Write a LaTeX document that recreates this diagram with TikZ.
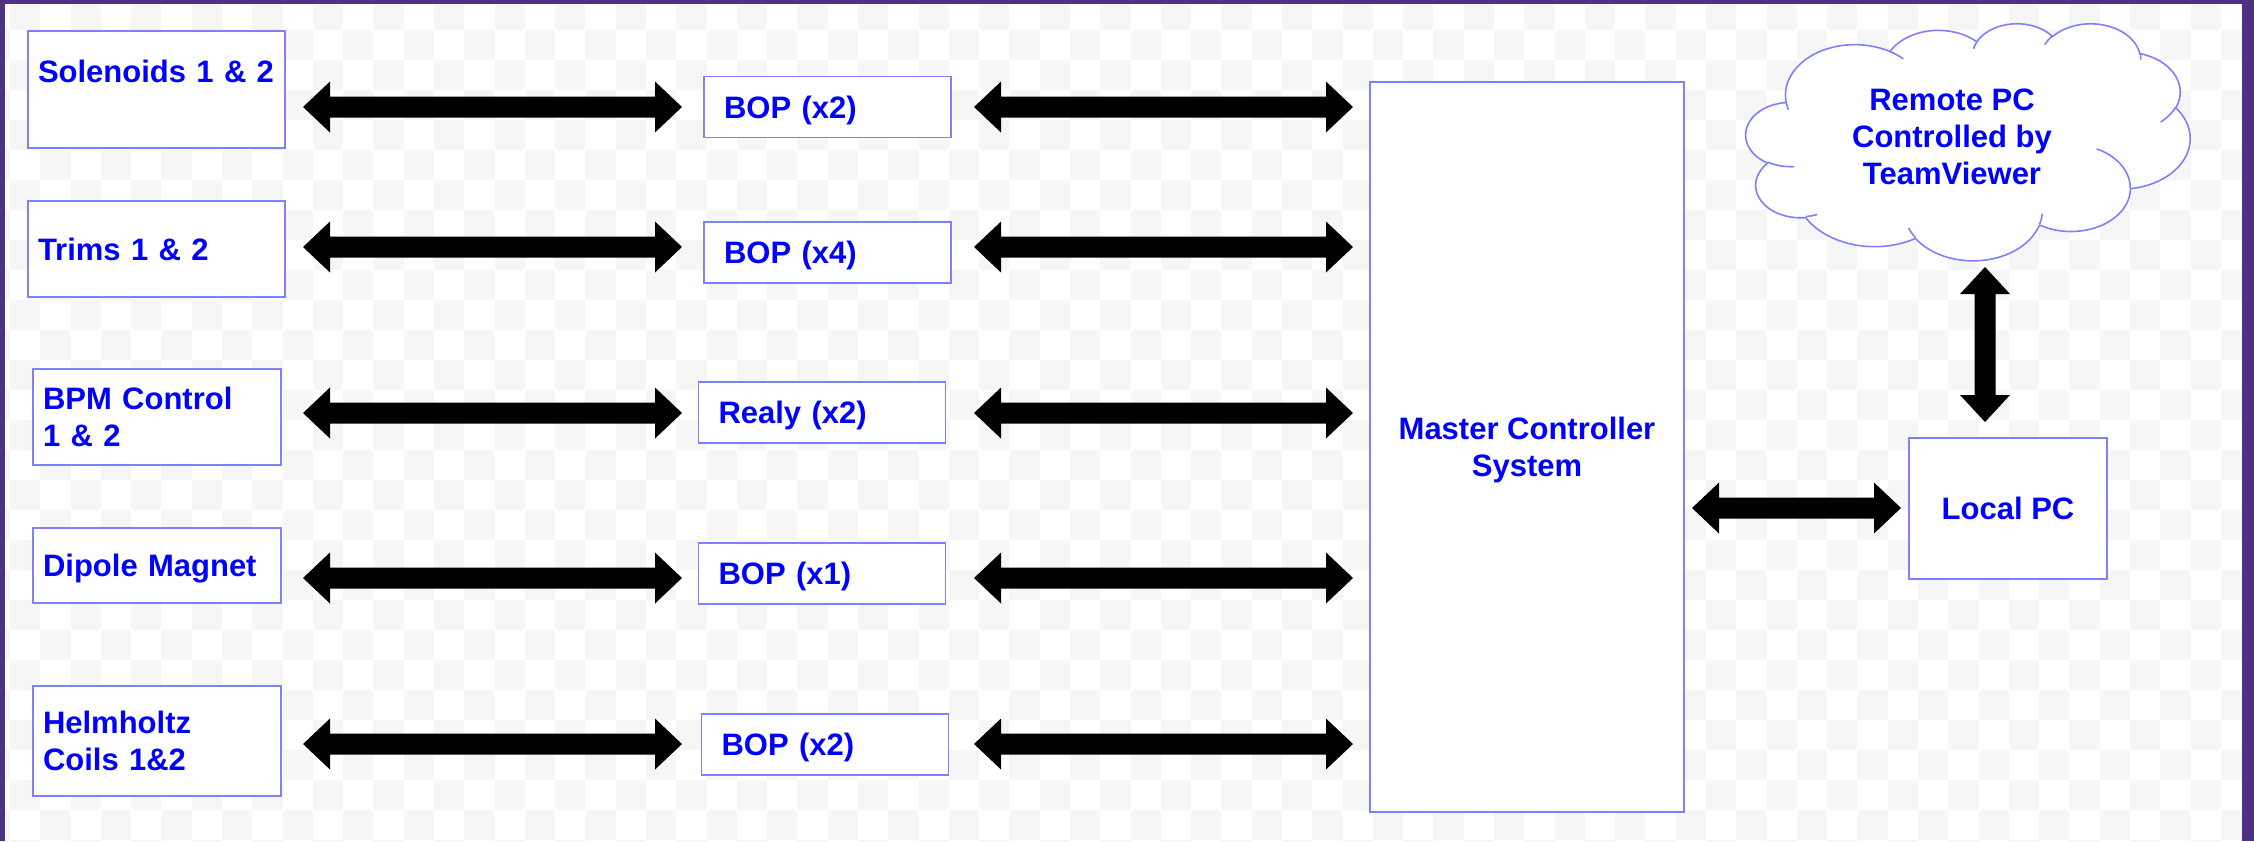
\documentclass[tikz,border=0pt]{standalone}
\usepackage{fontspec}
\setmainfont{Liberation Sans}
\usetikzlibrary{calc}
\definecolor{boxline}{RGB}{128,128,255}
\definecolor{txtblue}{RGB}{0,0,255}
\definecolor{framepurple}{RGB}{78,49,131}
\definecolor{checkgrey}{RGB}{246,246,246}

% one elliptic arc of an Office-style cloud (geometric angles)
\newcommand\cloudarc[4]{%
  \pgfmathsetmacro\tA{atan2((#1)*sin(#3),(#2)*cos(#3))}%
  \pgfmathsetmacro\eA{(#3)+(#4)}%
  \pgfmathsetmacro\tB{atan2((#1)*sin(\eA),(#2)*cos(\eA))}%
  \pgfmathsetmacro\tB{\tB<\tA ? \tB+360 : \tB}%
  \pgfmathsetmacro\ccx{\cpx-(#1)*cos(\tA)}%
  \pgfmathsetmacro\ccy{\cpy-(#2)*sin(\tA)}%
  \pgfmathsetmacro\npx{\ccx+(#1)*cos(\tB)}%
  \pgfmathsetmacro\npy{\ccy+(#2)*sin(\tB)}%
  \xdef\cloudpath{\unexpanded\expandafter{\cloudpath} -- plot[domain=\tA:\tB,samples=30] ({\ccx+#1*cos(\noexpand\x)},{\ccy+#2*sin(\noexpand\x)})}%
  \xdef\cpx{\npx}\xdef\cpy{\npy}%
}
\newcommand\cloudstub[6]{%
  \xdef\cpx{#1}\xdef\cpy{#2}\gdef\cloudpath{}%
  \cloudarc{#3}{#4}{#5}{#6}%
  \edef\cldtmp{\noexpand\draw[cloudline] (#1,#2) \unexpanded\expandafter{\cloudpath};}\cldtmp}

\newcommand\harrow[2]{%
  \fill[black] let \p1=(#1), \p2=(#2) in
   (\x1,\y1) -- (\x1+27pt,\y1+25.5pt) -- (\x1+27pt,\y1+10.5pt) -- (\x2-27pt,\y2+10.5pt)
   -- (\x2-27pt,\y2+25.5pt) -- (\x2,\y2) -- (\x2-27pt,\y2-25.5pt) -- (\x2-27pt,\y2-10.5pt)
   -- (\x1+27pt,\y1-10.5pt) -- (\x1+27pt,\y1-25.5pt) -- cycle;}
\newcommand\varrow[2]{%
  \fill[black] let \p1=(#1), \p2=(#2) in
   (\x1,\y1) -- (\x1+25pt,\y1-27pt) -- (\x1+10.5pt,\y1-27pt) -- (\x2+10.5pt,\y2+27pt)
   -- (\x2+25pt,\y2+27pt) -- (\x2,\y2) -- (\x2-25pt,\y2+27pt) -- (\x2-10.5pt,\y2+27pt)
   -- (\x1-10.5pt,\y1-27pt) -- (\x1-25pt,\y1-27pt) -- cycle;}

\begin{document}
\begin{tikzpicture}[x=1pt,y=-1pt,
  every node/.style={outer sep=0pt},
  lbl/.style={text=txtblue, font=\fontsize{31}{37}\selectfont\bfseries},
  flat/.style={text depth=0pt},
  box/.style={lbl, draw=boxline, line width=1.6pt, fill=white},
  leftbox/.style={box, align=left, inner xsep=10pt, inner ysep=0pt, text width=#1},
  midbox/.style={box, flat, align=left, inner xsep=20pt, inner ysep=0pt, text width=207pt, minimum height=61pt},
  cloudline/.style={draw=boxline, line width=1.6pt, line join=round}
]
\useasboundingbox (0,0) rectangle (2254,841);
% transparent-background checkerboard
\fill[white] (0,0) rectangle (2254,841);
\foreach \r in {0,...,28}{%
  \pgfmathtruncatemacro\st{-mod(\r,2)}%
  \pgfmathtruncatemacro\sn{\st+2}%
  \foreach \k in {\st,\sn,...,74}{%
    \fill[checkgrey] ({10+\k*30.286},{\r*30}) rectangle +(30.286,30);
  }%
}
% frame
\fill[framepurple] (0,0) rectangle (2254,4);
\fill[framepurple] (0,0) rectangle (5,841);
\fill[framepurple] (2242,0) rectangle (2254,841);

% left column
\node[leftbox=237pt, minimum height=117pt] (sol) at (156.5,89.5) {Solenoids 1 \& 2\\\mbox{}};
\node[leftbox=237pt, flat, minimum height=96pt] (trm) at (156.5,249) {Trims 1 \& 2};
\node[leftbox=228pt, minimum height=96pt] (bpm) at (157,417) {BPM Control\\1 \& 2};
\node[leftbox=228pt, flat, minimum height=75pt] (dip) at (157,565.5) {Dipole Magnet};
\node[leftbox=228pt, minimum height=110pt] (hel) at (157,741) {Helmholtz\\Coils 1\&2};

% middle column
\node[midbox] (bop1) at (827.5,107) {BOP (x2)};
\node[midbox] (bop2) at (827.5,252.5) {BOP (x4)};
\node[midbox] (rly) at (822,412.5) {Realy (x2)};
\node[midbox] (bop3) at (822,573.5) {BOP (x1)};
\node[midbox] (bop4) at (825,744.5) {BOP (x2)};

% master and local PC
\node[box, flat, minimum width=314pt, minimum height=730pt, align=center] (mcs) at (1527,447) {Master Controller\\System};
\node[box, flat, minimum width=198pt, minimum height=141pt] (lpc) at (2008,508.5) {Local PC};

% cloud
\begin{scope}[shift={(1746pt,-23pt)}, x=1.02778pt, y=-0.54861pt]
  \xdef\cpx{39.00}\xdef\cpy{143.70}\gdef\cloudpath{}%
  \cloudarc{67.53}{91.90}{-190.4875}{123.7805}%
  \cloudarc{53.33}{72.67}{-144.1024}{89.9452}%
  \cloudarc{43.65}{59.45}{-145.8079}{99.7230}%
  \cloudarc{48.57}{65.95}{-130.9861}{117.2417}%
  \cloudarc{53.33}{72.73}{-78.7089}{109.0269}%
  \cloudarc{67.75}{92.20}{-46.2673}{130.2690}%
  \cloudarc{57.85}{78.67}{0.6250}{114.0333}%
  \cloudarc{67.52}{92.15}{22.4516}{115.1726}%
  \cloudarc{77.20}{105.43}{66.2426}{75.7110}%
  \cloudarc{43.60}{59.18}{-274.9421}{146.7356}%
  \cloudarc{43.45}{59.45}{-246.8285}{152.5189}%
  \edef\cldtmp{\noexpand\filldraw[cloudline, fill=white] (39.00,143.70) \unexpanded\expandafter{\cloudpath} -- cycle;}\cldtmp
  \cloudstub{46.93}{261.77}{43.45}{59.45}{86.7420}{26.4295}
  \cloudstub{69.28}{348.99}{43.60}{59.18}{73.6105}{11.4475}
  \cloudstub{164.78}{390.90}{67.52}{92.15}{137.6242}{14.0811}
  \cloudstub{288.27}{347.51}{67.52}{92.15}{6.4533}{15.9984}
  \cloudstub{341.29}{229.54}{57.85}{78.67}{-70.2924}{70.9174}
  \cloudstub{417.98}{153.54}{53.33}{72.73}{30.3180}{27.7515}
  \cloudstub{383.24}{54.26}{48.57}{65.95}{-13.7443}{14.8589}
  \cloudstub{290.78}{39.52}{48.57}{65.95}{-149.1815}{18.1954}
  \cloudstub{221.41}{47.20}{43.65}{59.45}{-163.4943}{17.6864}
  \cloudstub{140.00}{51.92}{67.53}{91.90}{-66.7070}{12.3194}
  \cloudstub{41.27}{157.89}{67.53}{91.90}{157.6544}{11.8582}
\end{scope}
\node[lbl, flat, align=center] (cloud) at (1952,137) {Remote PC\\Controlled by\\TeamViewer};

% connector end points
\foreach \i/\yy in {1/107,2/247,3/413,4/578,5/744}{
  \coordinate (la\i) at (303,\yy);
  \coordinate (lb\i) at (682,\yy);
  \coordinate (ra\i) at (974,\yy);
  \coordinate (rb\i) at (1353,\yy);
}
\coordinate (ma) at (1692,508);
\coordinate (mb) at (1901,508);
\coordinate (va) at (1985,267);
\coordinate (vb) at (1985,422);

\foreach \i in {1,...,5}{\harrow{la\i}{lb\i}\harrow{ra\i}{rb\i}}
\harrow{ma}{mb}
\varrow{va}{vb}
\end{tikzpicture}
\end{document}
